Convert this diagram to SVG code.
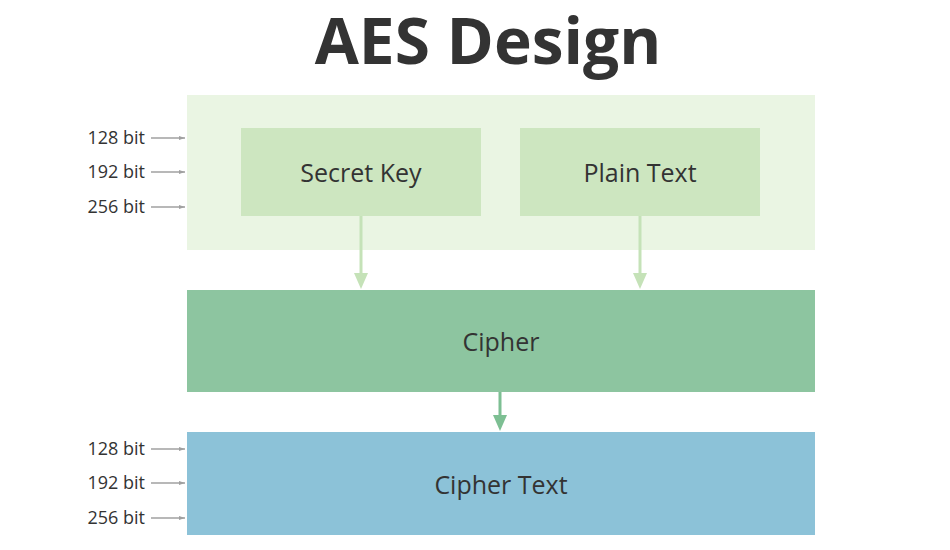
<svg xmlns="http://www.w3.org/2000/svg" width="950" height="550" viewBox="0 0 950 550">
<defs>
<style>
.title{font-family:"Open Sans","Noto Sans",sans-serif;font-weight:bold;font-size:64px;fill:#333333}
.lbl{font-family:"Open Sans","Noto Sans",sans-serif;font-size:25px;fill:#333333}
.bit{font-family:"Open Sans","Noto Sans",sans-serif;font-size:18px;fill:#333333}
.bitline{stroke:#a0a0a0;stroke-width:1.3;fill:none}
</style>
<marker id="gh" viewBox="0 0 10 10" refX="10" refY="5" markerWidth="6" markerHeight="6" markerUnits="userSpaceOnUse" orient="auto"><path d="M0,1.5 L10,5 L0,8.5 z" fill="#a0a0a0"/></marker>
</defs>
<rect width="950" height="550" fill="#ffffff"/>
<text class="title" x="488" y="64" text-anchor="middle">AES Design</text>
<g id="input-area"><rect x="187" y="95" width="628" height="155" fill="#eaf5e3"/></g>
<g id="secret-key"><rect x="241" y="128" width="240" height="88" fill="#cde6c0"/><text class="lbl" x="361" y="182" text-anchor="middle">Secret Key</text></g>
<g id="plain-text"><rect x="520" y="128" width="240" height="88" fill="#cde6c0"/><text class="lbl" x="640" y="182" text-anchor="middle">Plain Text</text></g>
<g id="cipher"><rect x="187" y="290" width="628" height="102" fill="#8dc5a0"/><text class="lbl" x="501" y="351" text-anchor="middle">Cipher</text></g>
<g id="cipher-text"><rect x="187" y="432" width="628" height="103" fill="#8cc2d8"/><text class="lbl" x="501" y="494" text-anchor="middle">Cipher Text</text></g>
<g id="key-sizes">
<text class="bit" x="145" y="144" text-anchor="end">128 bit</text>
<text class="bit" x="145" y="178" text-anchor="end">192 bit</text>
<text class="bit" x="145" y="213" text-anchor="end">256 bit</text>
<text class="bit" x="145" y="455" text-anchor="end">128 bit</text>
<text class="bit" x="145" y="489" text-anchor="end">192 bit</text>
<text class="bit" x="145" y="524" text-anchor="end">256 bit</text>
</g>
<g id="connectors">
<line class="bitline" x1="151" y1="138" x2="185" y2="138" marker-end="url(#gh)"/>
<line class="bitline" x1="151" y1="172" x2="185" y2="172" marker-end="url(#gh)"/>
<line class="bitline" x1="151" y1="207" x2="185" y2="207" marker-end="url(#gh)"/>
<line class="bitline" x1="151" y1="449" x2="185" y2="449" marker-end="url(#gh)"/>
<line class="bitline" x1="151" y1="483" x2="185" y2="483" marker-end="url(#gh)"/>
<line class="bitline" x1="151" y1="518" x2="185" y2="518" marker-end="url(#gh)"/>
<line x1="361" y1="216" x2="361" y2="276" stroke="#c5e2b8" stroke-width="3"/>
<path d="M354,273 L368,273 L361,289 z" fill="#c5e2b8"/>
<line x1="640" y1="216" x2="640" y2="276" stroke="#c5e2b8" stroke-width="3"/>
<path d="M633,273 L647,273 L640,289 z" fill="#c5e2b8"/>
<line x1="500" y1="392" x2="500" y2="418" stroke="#7dbf93" stroke-width="3"/>
<path d="M493,415 L507,415 L500,431 z" fill="#7dbf93"/>
</g>
</svg>
